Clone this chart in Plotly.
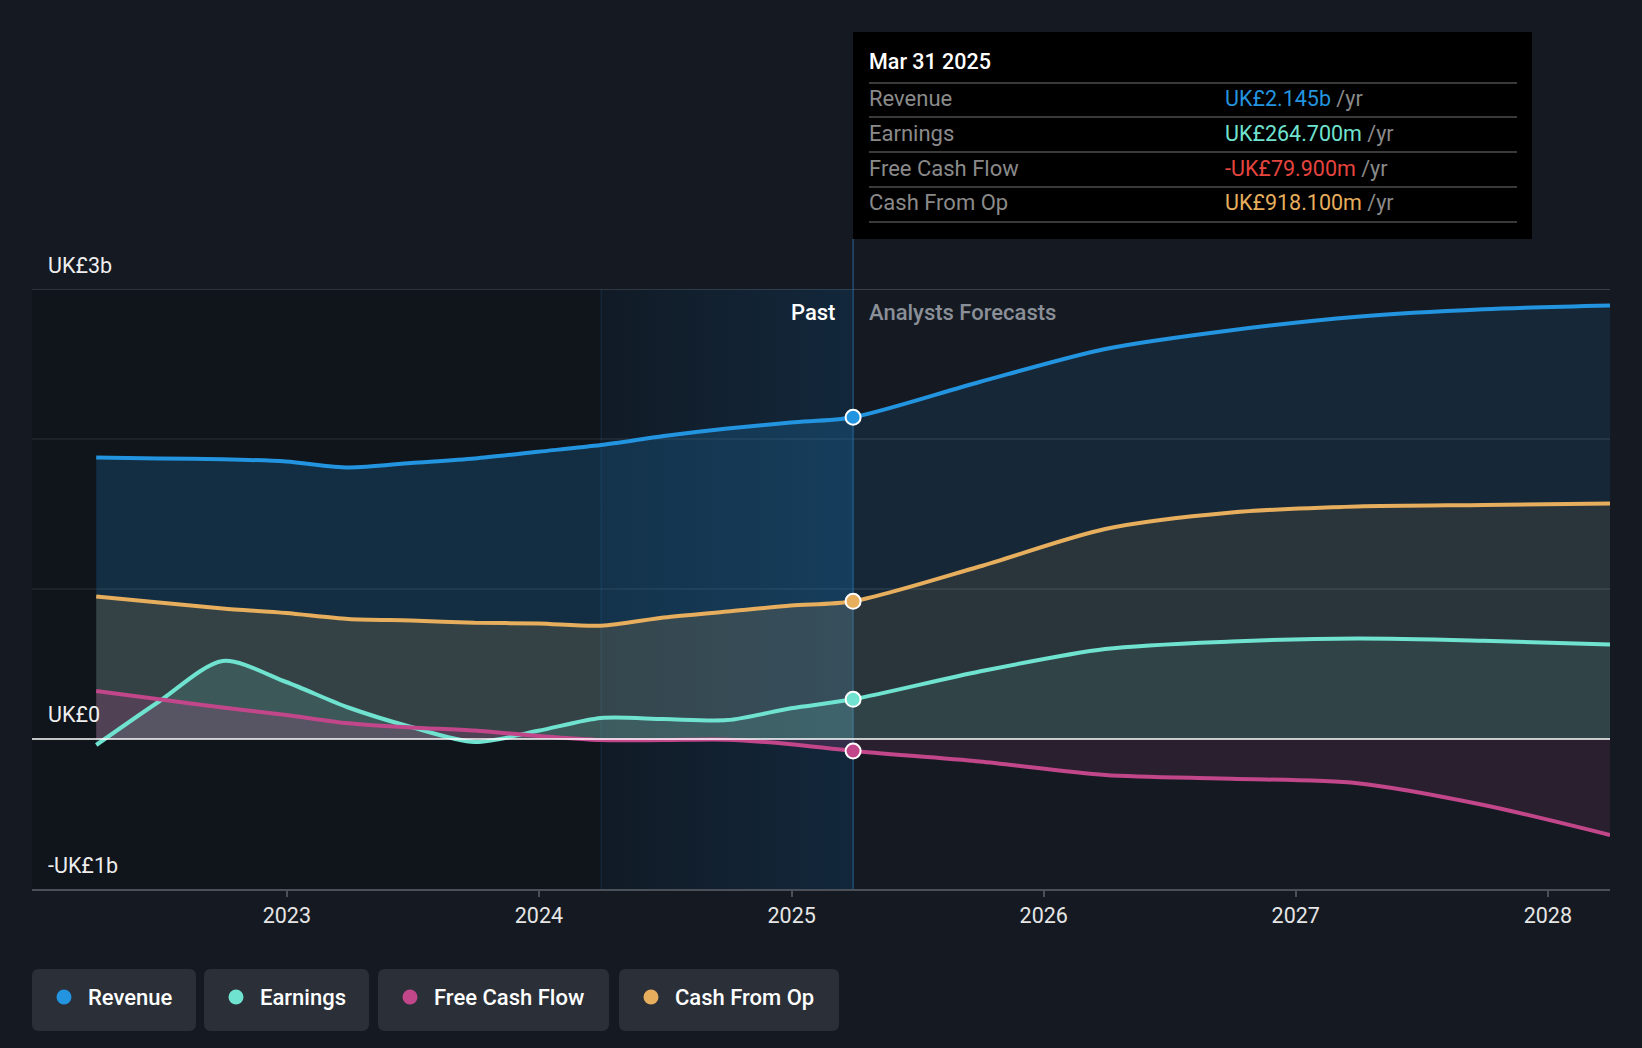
import plotly.graph_objects as go

# ---------------- data ----------------
dates = ["2022-03-31", "2022-06-30", "2022-09-30", "2022-12-31", "2023-03-31", "2023-06-30",
         "2023-09-30", "2023-12-31", "2024-03-31", "2024-06-30", "2024-09-30", "2024-12-31",
         "2025-03-31", "2025-09-30", "2026-03-31", "2026-09-30", "2027-03-31", "2027-09-30",
         "2028-03-31"]
revenue = [1.877, 1.870, 1.865, 1.850, 1.810, 1.840, 1.870, 1.915, 1.960, 2.020, 2.070, 2.110,
           2.145, 2.380, 2.600, 2.725, 2.815, 2.865, 2.890]
earnings = [-0.04, 0.25, 0.52, 0.38, 0.21, 0.08, -0.02, 0.055, 0.14, 0.133, 0.126, 0.205,
            0.2647, 0.45, 0.60, 0.65, 0.67, 0.655, 0.63]
free_cash_flow = [0.32, 0.265, 0.21, 0.16, 0.105, 0.077, 0.056, 0.02, -0.007, -0.007, -0.005,
                  -0.035, -0.0799, -0.15, -0.24, -0.265, -0.295, -0.44, -0.64]
cash_from_op = [0.95, 0.91, 0.87, 0.84, 0.80, 0.79, 0.775, 0.77, 0.755, 0.81, 0.85, 0.89,
                0.9181, 1.15, 1.40, 1.51, 1.55, 1.56, 1.57]

series_names = ["Revenue", "Earnings", "Free Cash Flow", "Cash From Op"]
series_colors = ["#2394df", "#6fe3cf", "#c2468a", "#e6ae5d"]
tooltip_values = ["UK£2.145b", "UK£264.700m", "-UK£79.900m", "UK£918.100m"]
tooltip_value_colors = ["#2394df", "#6fe3cf", "#e5443f", "#e6ae5d"]
tooltip_title = "Mar 31 2025"
x_ticks = ["2023-01-01", "2024-01-01", "2025-01-01", "2026-01-01", "2027-01-01", "2028-01-01"]
x_tick_labels = ["2023", "2024", "2025", "2026", "2027", "2028"]
y_labels = {3: "UK£3b", 0: "UK£0", -1: "-UK£1b"}

current = "2025-03-31"
past_start_hl = "2024-03-31"
x_range = ["2021-12-28", "2028-03-31"]
CUR_IDX = dates.index(current)

# ---------------- layout helpers ----------------
W, H = 1642, 1048
L, R, T, B = 32, 32, 289, 159
PW, PH = W - L - R, H - T - B
BG = "#151a22"
FONT = "Roboto"


def px(x):
    return (x - L) / PW


def py(y):
    return (H - B - y) / PH


def rgba(hexc, a):
    h = hexc.lstrip("#")
    r, g, b = int(h[0:2], 16), int(h[2:4], 16), int(h[4:6], 16)
    return f"rgba({r},{g},{b},{a})"


def rrect(x0, y0, x1, y1, r):
    X0, X1 = px(x0), px(x1)
    Yt, Yb = py(y0), py(y1)
    rx, ry = r / PW, r / PH
    return (f"M{X0+rx},{Yt} L{X1-rx},{Yt} Q{X1},{Yt} {X1},{Yt-ry} L{X1},{Yb+ry} "
            f"Q{X1},{Yb} {X1-rx},{Yb} L{X0+rx},{Yb} Q{X0},{Yb} {X0},{Yb+ry} "
            f"L{X0},{Yt-ry} Q{X0},{Yt} {X0+rx},{Yt} Z")


fig = go.Figure()

# past background (darker)
fig.add_trace(go.Scatter(x=[x_range[0], current, current, x_range[0]], y=[-1, -1, 3, 3],
                         fill="toself", fillcolor="rgba(0,0,0,0.2)", mode="lines",
                         line=dict(width=0), hoverinfo="skip", showlegend=False))
# last-year highlight gradient
fig.add_trace(go.Scatter(x=[past_start_hl, current, current, past_start_hl], y=[-1, -1, 3, 3],
                         fill="toself", mode="lines", line=dict(width=0),
                         fillgradient=dict(type="horizontal",
                                           colorscale=[[0, "rgba(33,150,243,0.05)"],
                                                       [1, "rgba(33,150,243,0.15)"]]),
                         hoverinfo="skip", showlegend=False))

all_series = [revenue, earnings, free_cash_flow, cash_from_op]
fill_order = [0, 3, 1, 2]
past_alpha = [0.20, 0.14, 0.20, 0.16]
fc_alpha = [0.12, 0.09, 0.12, 0.10]

for i in fill_order:
    vals = all_series[i]
    col = series_colors[i]
    fig.add_trace(go.Scatter(x=dates[:CUR_IDX + 1], y=vals[:CUR_IDX + 1], mode="lines",
                             line=dict(width=0, shape="spline", smoothing=0.8),
                             fill="tozeroy", fillcolor=rgba(col, past_alpha[i]),
                             hoverinfo="skip", showlegend=False))
    fig.add_trace(go.Scatter(x=dates[CUR_IDX:], y=vals[CUR_IDX:], mode="lines",
                             line=dict(width=0, shape="spline", smoothing=0.8),
                             fill="tozeroy", fillcolor=rgba(col, fc_alpha[i]),
                             hoverinfo="skip", showlegend=False))

for i in fill_order:
    fig.add_trace(go.Scatter(x=dates, y=all_series[i], mode="lines", name=series_names[i],
                             line=dict(width=4, color=series_colors[i], shape="spline",
                                       smoothing=0.8),
                             showlegend=False))

for i in fill_order:
    fig.add_trace(go.Scatter(x=[current], y=[all_series[i][CUR_IDX]], mode="markers",
                             marker=dict(size=15, color=series_colors[i],
                                         line=dict(color="white", width=2)),
                             showlegend=False, hoverinfo="skip"))

shapes = []
# gridlines
for v, c in [(1, "rgba(255,255,255,0.10)"), (2, "rgba(255,255,255,0.10)"),
             (3, "rgba(255,255,255,0.22)")]:
    shapes.append(dict(type="line", xref="paper", yref="y", x0=0, x1=1, y0=v, y1=v,
                       line=dict(color=c, width=1.5), layer="below"))
# zero line
shapes.append(dict(type="line", xref="paper", yref="y", x0=0, x1=1, y0=0, y1=0,
                   line=dict(color="#ffffff", width=1.5), layer="above"))
# vertical lines
shapes.append(dict(type="line", xref="x", yref="paper", x0=past_start_hl, x1=past_start_hl,
                   y0=0, y1=1, line=dict(color="rgba(40,110,170,0.35)", width=1), layer="below"))
shapes.append(dict(type="line", xref="x", yref="paper", x0=current, x1=current,
                   y0=0, y1=py(239), line=dict(color="rgba(45,120,180,0.55)", width=1.5),
                   layer="below"))

# tooltip box
shapes.append(dict(type="rect", xref="paper", yref="paper", x0=px(853), x1=px(1532),
                   y0=py(239), y1=py(32), fillcolor="#000000", line=dict(width=0),
                   layer="above"))
for yy in [83, 117, 152, 187, 222]:
    shapes.append(dict(type="line", xref="paper", yref="paper", x0=px(869), x1=px(1517),
                       y0=py(yy), y1=py(yy), line=dict(color="#3a3a3a", width=2),
                       layer="above"))

annotations = []
annotations.append(dict(x=px(867), y=py(62), xref="paper", yref="paper", xanchor="left",
                        yanchor="middle", showarrow=False, text=tooltip_title,
                        font=dict(family=FONT, size=21.5, color="#ffffff", weight=500)))
for k, yy in enumerate([98, 133, 168, 202]):
    annotations.append(dict(x=px(867), y=py(yy), xref="paper", yref="paper", xanchor="left",
                            yanchor="middle", showarrow=False, text=series_names[k],
                            font=dict(family=FONT, size=22, color="#8a8a8a")))
    annotations.append(dict(x=px(1223), y=py(yy), xref="paper", yref="paper", xanchor="left",
                            yanchor="middle", showarrow=False,
                            text=f'<span style="color:{tooltip_value_colors[k]}">{tooltip_values[k]}</span> /yr',
                            font=dict(family=FONT, size=21.5, color="#8a8a8a")))

# Past / forecast labels
annotations.append(dict(x=current, y=py(312), xref="x", yref="paper", xanchor="right",
                        yanchor="middle", xshift=-16, showarrow=False, text="Past",
                        font=dict(family=FONT, size=22, color="#ffffff", weight=500)))
annotations.append(dict(x=current, y=py(312), xref="x", yref="paper", xanchor="left",
                        yanchor="middle", xshift=14, showarrow=False, text="Analysts Forecasts",
                        font=dict(family=FONT, size=22, color="#8a8f98", weight=500)))

# y labels
ylab_pos = {3: 265, 0: 714, -1: 865}
for v, t in y_labels.items():
    annotations.append(dict(x=px(46), y=py(ylab_pos[v]), xref="paper", yref="paper",
                            xanchor="left", yanchor="middle", showarrow=False, text=t,
                            font=dict(family=FONT, size=21.5, color="#eeeeee")))

# custom legend
legend_boxes = [(32, 196), (204, 369), (378, 609), (619, 839)]
for k, (x0, x1) in enumerate(legend_boxes):
    shapes.append(dict(type="path", xref="paper", yref="paper",
                       path=rrect(x0, 969, x1, 1031, 7), fillcolor="#2b2f38",
                       line=dict(width=0), layer="above"))
    cx, cy, r = x0 + 32, 997, 7.5
    shapes.append(dict(type="circle", xref="paper", yref="paper", x0=px(cx - r), x1=px(cx + r),
                       y0=py(cy + r), y1=py(cy - r), fillcolor=series_colors[k],
                       line=dict(width=0), layer="above"))
    annotations.append(dict(x=px(x0 + 54), y=py(cy), xref="paper", yref="paper",
                            xanchor="left", yanchor="middle", showarrow=False,
                            text=series_names[k],
                            font=dict(family=FONT, size=22, color="#ffffff", weight=500)))

fig.update_layout(
    width=W, height=H,
    margin=dict(l=L, r=R, t=T, b=B, pad=0),
    paper_bgcolor=BG, plot_bgcolor=BG,
    font=dict(family=FONT, color="#ffffff"),
    showlegend=False,
    shapes=shapes,
    annotations=annotations,
    hovermode=False,
    xaxis=dict(type="date", range=x_range, tickvals=x_ticks, ticktext=x_tick_labels,
               showgrid=False, zeroline=False, showline=True, linecolor="#4b5058",
               linewidth=2, ticks="outside", ticklen=6, tickcolor="#4b5058", tickwidth=1.5,
               tickfont=dict(family=FONT, size=21.5, color="#e6e6e6"), fixedrange=True),
    yaxis=dict(range=[-1, 3], showgrid=False, zeroline=False, showticklabels=False,
               showline=False, fixedrange=True),
)

fig.write_html("out.html", config={"displayModeBar": False},
               post_script="document.body.style.margin='0';document.body.style.background='%s';" % BG)
